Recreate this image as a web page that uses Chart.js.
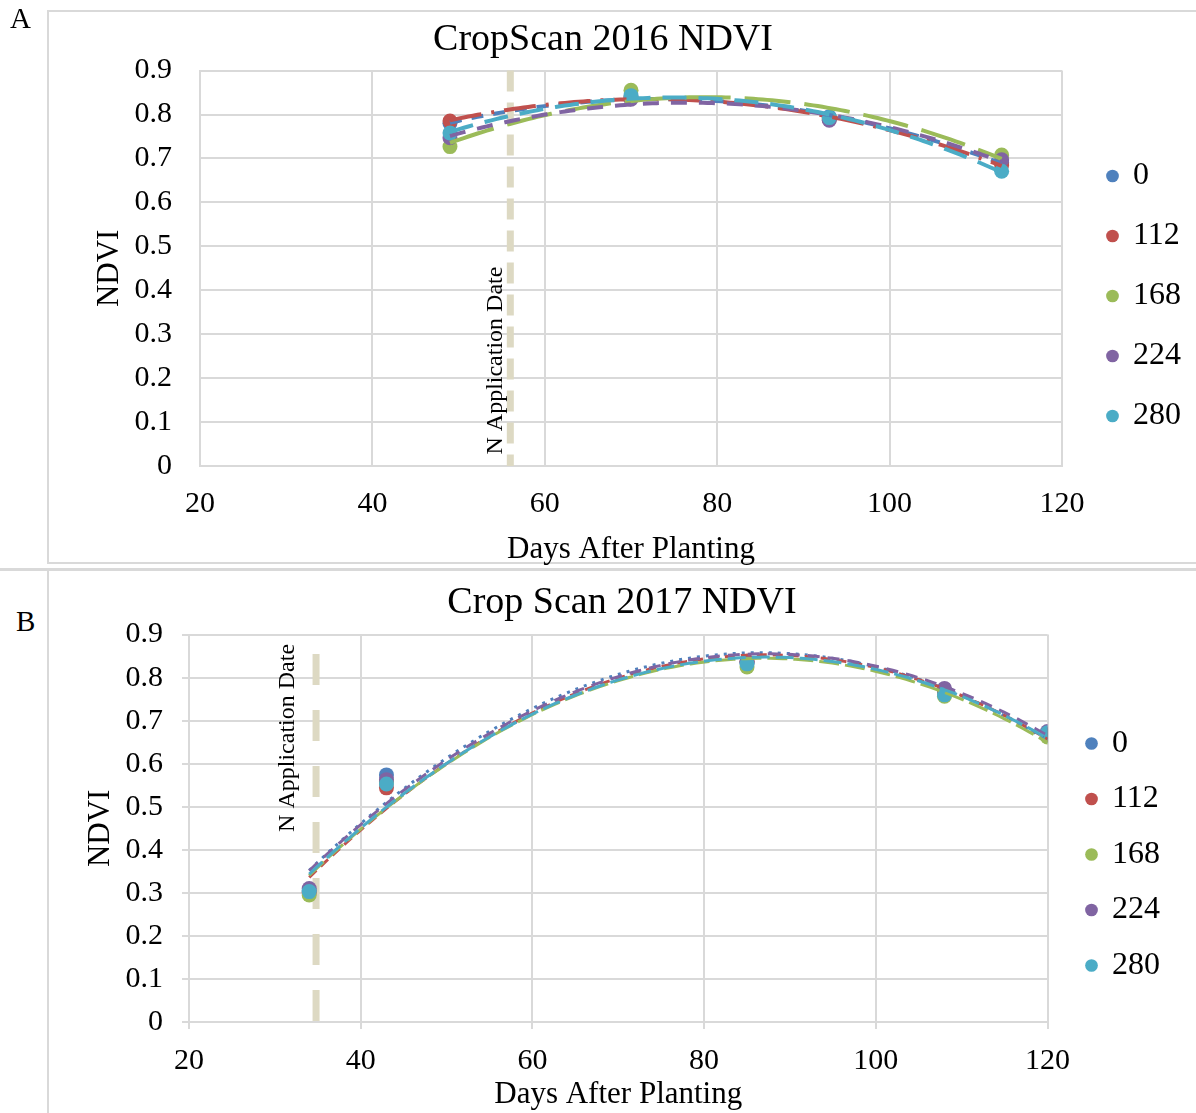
<!DOCTYPE html>
<html><head><meta charset="utf-8">
<script src="https://cdn.jsdelivr.net/npm/chart.js@4.4.1/dist/chart.umd.min.js"></script>
<style>
body{margin:0;background:#fff;width:1196px;height:1113px;position:relative;overflow:hidden;font-family:"Liberation Serif",serif;}
.box{position:absolute;border:2px solid #d9d9d9;box-sizing:border-box;}
.lab{position:absolute;font-size:29px;line-height:1;color:#000;}
.wrap{position:absolute;}
</style></head><body>
<div class="box" style="left:47px;top:10px;width:1160px;height:554px;"></div>
<div class="box" style="left:47px;top:568px;width:1160px;height:560px;"></div>
<div style="position:absolute;left:0;top:568px;width:1196px;height:3px;background:#d9d9d9"></div>
<div class="wrap" style="left:10px;top:12px;width:1186px;height:556px"><canvas id="cA"></canvas></div>
<div class="wrap" style="left:48px;top:570px;width:1148px;height:543px"><canvas id="cB"></canvas></div>
<div class="lab" style="left:10px;top:4px">A</div>
<div class="lab" style="left:16px;top:607px">B</div>
<script>
// ---------- data ----------
const seriesNames = ['0', '112', '168', '224', '280'];

// 2016 (chart A)
const daysA = [49, 70, 93, 113];
const ndviA_0   = [0.780, 0.838, 0.795, 0.690];
const ndviA_112 = [0.785, 0.840, 0.790, 0.685];
const ndviA_168 = [0.727, 0.855, 0.790, 0.708];
const ndviA_224 = [0.747, 0.835, 0.787, 0.697];
const ndviA_280 = [0.758, 0.843, 0.793, 0.671];
const nDateA = 56;

// 2017 (chart B)
const daysB = [34, 43, 85, 108, 120];
const ndviB_0   = [0.305, 0.574, 0.835, 0.770, 0.665];
const ndviB_112 = [0.300, 0.544, 0.838, 0.765, 0.668];
const ndviB_168 = [0.295, 0.558, 0.825, 0.757, 0.662];
const ndviB_224 = [0.310, 0.563, 0.835, 0.775, 0.675];
const ndviB_280 = [0.303, 0.553, 0.832, 0.760, 0.672];
const nDateB = 34.8;

const xTicks = [20, 40, 60, 80, 100, 120];
const yTicks = [0, 0.1, 0.2, 0.3, 0.4, 0.5, 0.6, 0.7, 0.8, 0.9];

// ---------- style ----------
const COLORS = ['#4F81BD', '#C0504D', '#9BBB59', '#8064A2', '#4BACC6'];
const FONT = '"Liberation Serif", "Times New Roman", serif';
const GRID = '#d9d9d9';

function quadFit(xs, ys) {
  const n = xs.length;
  const m = xs.reduce((a, b) => a + b, 0) / n;
  const s = [0, 0, 0, 0, 0], t = [0, 0, 0];
  for (let i = 0; i < n; i++) {
    const u = xs[i] - m;
    for (let k = 0; k < 5; k++) s[k] += Math.pow(u, k);
    for (let k = 0; k < 3; k++) t[k] += ys[i] * Math.pow(u, k);
  }
  const A = [[s[0], s[1], s[2], t[0]], [s[1], s[2], s[3], t[1]], [s[2], s[3], s[4], t[2]]];
  for (let c = 0; c < 3; c++) {
    for (let r = c + 1; r < 3; r++) {
      const f = A[r][c] / A[c][c];
      for (let k = c; k < 4; k++) A[r][k] -= f * A[c][k];
    }
  }
  const co = [0, 0, 0];
  for (let r = 2; r >= 0; r--) {
    let v = A[r][3];
    for (let k = r + 1; k < 3; k++) v -= A[r][k] * co[k];
    co[r] = v / A[r][r];
  }
  return x => { const u = x - m; return co[0] + co[1] * u + co[2] * u * u; };
}

const trendPlugin = {
  id: 'trend',
  afterDatasetsDraw(chart, args, opts) {
    const {ctx, chartArea, scales: {x, y}} = chart;
    ctx.save();
    ctx.beginPath();
    ctx.rect(chartArea.left, chartArea.top, chartArea.right - chartArea.left, chartArea.bottom - chartArea.top);
    ctx.clip();
    chart.data.datasets.forEach((ds, i) => {
      const xs = ds.data.map(p => p.x), ys = ds.data.map(p => p.y);
      const f = quadFit(xs, ys);
      const x0 = Math.min(...xs), x1 = Math.max(...xs);
      ctx.beginPath();
      const N = 120;
      for (let j = 0; j <= N; j++) {
        const xv = x0 + (x1 - x0) * j / N;
        const px = x.getPixelForValue(xv), py = y.getPixelForValue(f(xv));
        if (j === 0) ctx.moveTo(px, py); else ctx.lineTo(px, py);
      }
      ctx.setLineDash(opts.dashes[i]);
      ctx.lineWidth = opts.width;
      ctx.lineCap = 'butt';
      ctx.strokeStyle = ds.borderColor;
      ctx.stroke();
    });
    ctx.restore();
  }
};

const markerPlugin = {
  id: 'marker',
  beforeDatasetsDraw(chart, args, opts) {
    const {ctx, scales: {x, y}} = chart;
    const px = x.getPixelForValue(opts.x);
    ctx.save();
    ctx.beginPath();
    ctx.setLineDash(opts.dash);
    ctx.lineWidth = 7;
    ctx.strokeStyle = '#DDD9C3';
    ctx.moveTo(px, y.getPixelForValue(opts.yTop));
    ctx.lineTo(px, y.getPixelForValue(0));
    ctx.stroke();
    ctx.translate(px + opts.textDx, y.getPixelForValue(opts.textY));
    ctx.rotate(-Math.PI / 2);
    ctx.font = '24px ' + FONT;
    ctx.fillStyle = '#000';
    ctx.textAlign = 'center';
    ctx.textBaseline = 'middle';
    ctx.fillText(opts.label, 0, 0);
    ctx.restore();
  }
};

// nudges the legend column after layout (gap between plot and legend)
const legendShiftPlugin = {
  id: 'legendShift',
  afterLayout(chart, args, opts) {
    if (chart.legend) {
      chart.legend.left += opts.dx || 0;
      chart.legend.right += opts.dx || 0;
      chart.legend.top += opts.dy || 0;
      chart.legend.bottom += opts.dy || 0;
    }
  }
};

function makeChart(id, c) {
  return new Chart(document.getElementById(id), {
    type: 'scatter',
    data: {
      datasets: seriesNames.map((name, i) => ({
        label: name,
        data: c.days.map((d, j) => ({x: d, y: c.values[i][j]})),
        backgroundColor: COLORS[i],
        borderColor: COLORS[i],
        borderWidth: 0,
        pointRadius: 7.5,
        pointHoverRadius: 7.5,
        order: 5 - i
      }))
    },
    options: {
      responsive: true,
      maintainAspectRatio: false,
      animation: false,
      layout: {padding: c.layoutPad},
      events: [],
      plugins: {
        title: {display: true, text: c.title, color: '#000', font: {family: FONT, size: 38, weight: 'normal'}, padding: c.titlePad},
        legend: {
          position: 'right',
          labels: {
            usePointStyle: true, pointStyle: 'circle', boxWidth: 9, boxHeight: 9,
            color: '#000', font: {family: FONT, size: 32}, padding: c.legendPad,
            sort: (a, b) => a.datasetIndex - b.datasetIndex
          }
        },
        legendShift: {dx: c.legendDx, dy: c.legendDy},
        tooltip: {enabled: false},
        trend: {dashes: c.dashes, width: c.lineW},
        marker: {x: c.nDate, yTop: c.markTop, dash: c.markDash, textDx: c.textDx, textY: c.textY, label: 'N Application Date'}
      },
      scales: {
        x: {
          type: 'linear', min: 20, max: 120,
          afterBuildTicks: s => { s.ticks = xTicks.map(v => ({value: v})); },
          afterFit: s => { s.height = c.xH; },
          ticks: {color: '#000', font: {family: FONT, size: 30}, padding: c.xTickPad, maxRotation: 0},
          grid: {color: GRID, lineWidth: 2, drawTicks: c.drawTicks, tickLength: 7, tickColor: GRID},
          border: {color: GRID, width: 2},
          title: {display: true, text: 'Days After Planting', color: '#000', font: {family: FONT, size: 31}, padding: c.xTitlePad}
        },
        y: {
          min: 0, max: 0.9,
          afterBuildTicks: s => { s.ticks = yTicks.map(v => ({value: v})); },
          afterFit: s => { s.width = c.yW; },
          ticks: {color: '#000', font: {family: FONT, size: 30}, padding: c.yTickPad,
                  callback: v => v === 0 ? '0' : v.toFixed(1)},
          grid: {color: GRID, lineWidth: 2, drawTicks: c.drawTicks, tickLength: 7, tickColor: GRID},
          border: {color: GRID, width: 2},
          title: {display: true, text: 'NDVI', color: '#000', font: {family: FONT, size: 31}, padding: c.yTitlePad}
        }
      }
    },
    plugins: [trendPlugin, markerPlugin, legendShiftPlugin]
  });
}

makeChart('cA', {
  title: 'CropScan 2016 NDVI',
  days: daysA,
  values: [ndviA_0, ndviA_112, ndviA_168, ndviA_224, ndviA_280],
  layoutPad: {left: 23, right: 23, top: 0, bottom: 0},
  titlePad: {top: 5, bottom: 8},
  legendPad: 28, legendDx: 18, legendDy: 6,
  xH: 102, yW: 167,
  xTickPad: 20, yTickPad: 28,
  xTitlePad: {top: 0, bottom: 0}, yTitlePad: {top: 58, bottom: 0},
  drawTicks: false,
  dashes: [[12, 10], [32, 10, 3, 10], [46, 14], [16, 12], [24, 12]],
  lineW: 4,
  nDate: nDateA, markTop: 0.9, markDash: [21, 11], textDx: -15, textY: 0.24
});

makeChart('cB', {
  title: 'Crop Scan 2017 NDVI',
  days: daysB,
  values: [ndviB_0, ndviB_112, ndviB_168, ndviB_224, ndviB_280],
  layoutPad: {left: 42, right: 42, top: 0, bottom: 0},
  titlePad: {top: 10, bottom: 9},
  legendPad: 23.5, legendDx: 16, legendDy: 13,
  xH: 91, yW: 99,
  xTickPad: 14, yTickPad: 19,
  xTitlePad: {top: 0, bottom: 0}, yTitlePad: {top: -8, bottom: 0},
  drawTicks: true,
  dashes: [[3, 6], [10, 6], [20, 6], [12, 8], [18, 6]],
  lineW: 3,
  nDate: nDateB, markTop: 0.855, markDash: [31, 25], textDx: -28, textY: 0.66
});
</script>
</body></html>
